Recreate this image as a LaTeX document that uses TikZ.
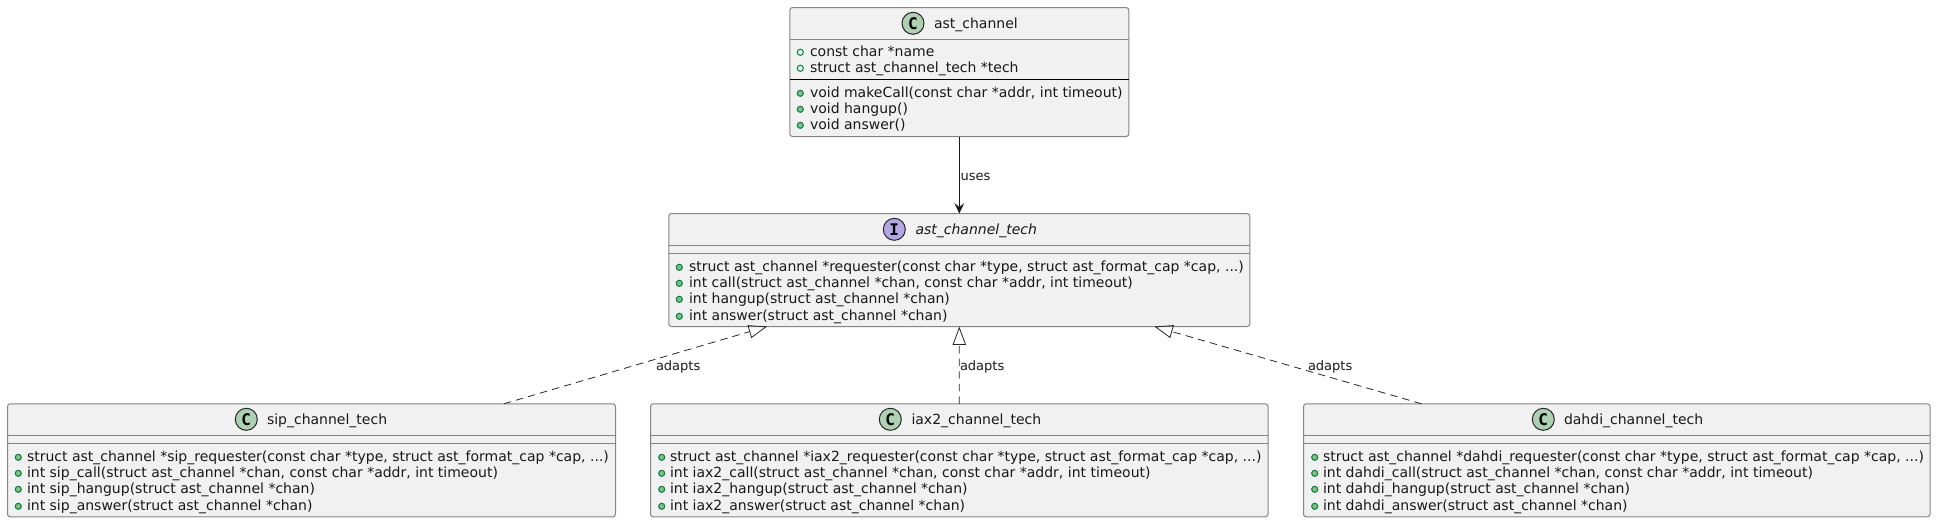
\documentclass[tikz,border=0pt]{standalone}
\usepackage{fontspec}
\setmainfont{DejaVu Sans}
\newfontfamily\glyphfont{DejaVu Sans Mono}
\usetikzlibrary{arrows.meta}
\definecolor{boxfill}{HTML}{F1F1F1}
\definecolor{boxline}{HTML}{848484}
\definecolor{spotC}{HTML}{ADD1B2}
\definecolor{spotI}{HTML}{B4A7E5}
\definecolor{visline}{HTML}{038048}
\definecolor{visfill}{HTML}{84BE84}
\tikzset{
  x=0.75pt,y=-0.75pt,
  umlbox/.style={draw=boxline,fill=boxfill,line width=0.75pt,rounded corners=2pt,inner sep=0pt,outer sep=0pt},
  memtext/.style={anchor=base west,inner sep=0pt,outer sep=0pt,font=\fontsize{10.5}{12}\selectfont,text=black!90},
  titletext/.style={memtext},
  edgelabel/.style={anchor=base west,inner sep=0pt,outer sep=0pt,font=\fontsize{9.75}{12}\selectfont,text=black!90},
  spot/.style={circle,draw=black!85,line width=0.75pt,minimum size=16.5pt,inner sep=0pt,outer sep=0pt,font=\glyphfont\bfseries\fontsize{12}{12}\selectfont},
  fielddot/.style={circle,draw=visline,fill=boxfill,line width=0.75pt,minimum size=4.6pt,inner sep=0pt,outer sep=0pt},
  methoddot/.style={circle,draw=visline,fill=visfill,line width=0.75pt,minimum size=4.6pt,inner sep=0pt,outer sep=0pt},
  divider/.style={draw=boxline,line width=0.75pt},
  realize/.style={draw=black!85,line width=0.6pt,dash pattern=on 5.6pt off 3.8pt,-{Triangle[open,length=13.8pt,width=10pt,line width=0.6pt]}},
  uses/.style={draw=black!90,line width=0.75pt,-{Stealth[length=7.8pt,width=7.4pt,inset=3pt]}},
}
\newcommand{\umlcard}[5]{%
  \pgfmathsetmacro{\cardcx}{(#2+#4)/2}%
  \pgfmathsetmacro{\cardcy}{(#3+#5)/2}%
  \pgfmathsetmacro{\cardw}{(#4-#2)*0.75}%
  \pgfmathsetmacro{\cardh}{(#5-#3)*0.75}%
  \node[umlbox,minimum width=\cardw pt,minimum height=\cardh pt] (#1) at (\cardcx,\cardcy) {};%
}
\newcommand{\fieldrow}[5]{%
  \node[fielddot] (#1d) at (#2,#4-3.7) {};%
  \node[memtext] (#1t) at (#3,#4) {#5};%
}
\newcommand{\methodrow}[5]{%
  \node[methoddot] (#1d) at (#2,#4-3.7) {};%
  \node[memtext] (#1t) at (#3,#4) {#5};%
}
\begin{document}
\begin{tikzpicture}
\useasboundingbox (0,0) rectangle (1936,522);
% boxes
\umlcard{chan}{789.8}{7.5}{1128.8}{136.5}
\umlcard{tech}{668.8}{213.5}{1249.8}{326.5}
\umlcard{sip}{7.5}{403.8}{615.5}{516.8}
\umlcard{iax}{650.5}{403.8}{1268}{516.8}
\umlcard{dahdi}{1303.5}{403.8}{1930}{516.8}
% dividers
\draw[divider] (chan.west |- 0,39.5) -- (chan.east |- 0,39.5);
\draw[draw=black,line width=0.75pt] (chan.west |- 0,79.5) -- (chan.east |- 0,79.5);
\draw[divider] (tech.west |- 0,245.5) -- (tech.east |- 0,245.5);
\draw[divider] (tech.west |- 0,253.5) -- (tech.east |- 0,253.5);
\foreach \b in {sip,iax,dahdi}{
  \draw[divider] (\b.west |- 0,435.8) -- (\b.east |- 0,435.8);
  \draw[divider] (\b.west |- 0,443.8) -- (\b.east |- 0,443.8);
}
% headers
\node[spot,fill=spotC] (chanspot) at (913,23.3) {C};
\node[titletext] (chantitle) at (934,28.5) {ast\_channel};
\node[spot,fill=spotI] (techspot) at (894.3,229.3) {I};
\node[titletext,font=\fontsize{10.5}{12}\selectfont\itshape] (techtitle) at (915.5,234.5) {ast\_channel\_tech};
\node[spot,fill=spotC] (sipspot) at (246.3,419.3) {C};
\node[titletext] (siptitle) at (267,424.5) {sip\_channel\_tech};
\node[spot,fill=spotC] (iaxspot) at (890.3,419.3) {C};
\node[titletext] (iaxtitle) at (911.5,424.5) {iax2\_channel\_tech};
\node[spot,fill=spotC] (dahdispot) at (1543.3,419.3) {C};
\node[titletext] (dahdititle) at (1564,424.5) {dahdi\_channel\_tech};
% ast_channel members
\fieldrow{cf1}{800.3}{810}{56}{const char *name}
\fieldrow{cf2}{800.3}{810}{72}{struct ast\_channel\_tech *tech}
\methodrow{cm1}{800.3}{810}{97}{void makeCall(const char *addr, int timeout)}
\methodrow{cm2}{800.3}{810}{113}{void hangup()}
\methodrow{cm3}{800.3}{810}{129}{void answer()}
% ast_channel_tech members
\methodrow{tm1}{679.3}{689}{271}{struct ast\_channel *requester(const char *type, struct ast\_format\_cap *cap, ...)}
\methodrow{tm2}{679.3}{689}{287}{int call(struct ast\_channel *chan, const char *addr, int timeout)}
\methodrow{tm3}{679.3}{689}{303}{int hangup(struct ast\_channel *chan)}
\methodrow{tm4}{679.3}{689}{320}{int answer(struct ast\_channel *chan)}
% sip
\methodrow{sm1}{18.3}{27}{461}{struct ast\_channel *sip\_requester(const char *type, struct ast\_format\_cap *cap, ...)}
\methodrow{sm2}{18.3}{27}{477}{int sip\_call(struct ast\_channel *chan, const char *addr, int timeout)}
\methodrow{sm3}{18.3}{27}{493}{int sip\_hangup(struct ast\_channel *chan)}
\methodrow{sm4}{18.3}{27}{510}{int sip\_answer(struct ast\_channel *chan)}
% iax2
\methodrow{im1}{661.7}{670}{461}{struct ast\_channel *iax2\_requester(const char *type, struct ast\_format\_cap *cap, ...)}
\methodrow{im2}{661.7}{670}{477}{int iax2\_call(struct ast\_channel *chan, const char *addr, int timeout)}
\methodrow{im3}{661.7}{670}{493}{int iax2\_hangup(struct ast\_channel *chan)}
\methodrow{im4}{661.7}{670}{510}{int iax2\_answer(struct ast\_channel *chan)}
% dahdi
\methodrow{dm1}{1314.7}{1323}{461}{struct ast\_channel *dahdi\_requester(const char *type, struct ast\_format\_cap *cap, ...)}
\methodrow{dm2}{1314.7}{1323}{477}{int dahdi\_call(struct ast\_channel *chan, const char *addr, int timeout)}
\methodrow{dm3}{1314.7}{1323}{493}{int dahdi\_hangup(struct ast\_channel *chan)}
\methodrow{dm4}{1314.7}{1323}{510}{int dahdi\_answer(struct ast\_channel *chan)}
% connectors
\draw[uses] (chan) -- (tech);
\draw[realize] (sip) -- (tech);
\draw[realize] (iax) -- (tech);
\draw[realize] (dahdi) -- (tech);
% labels
\node[edgelabel] (usesl) at (960.5,180) {uses};
\node[edgelabel] (sipl) at (656,370) {adapts};
\node[edgelabel] (iaxl) at (960,370) {adapts};
\node[edgelabel] (dahdil) at (1308,370) {adapts};
\end{tikzpicture}
\end{document}
